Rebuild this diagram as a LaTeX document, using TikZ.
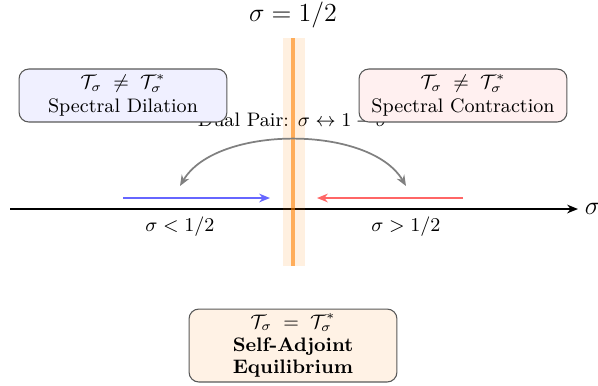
\documentclass[tikz,border=0pt]{standalone}
\usetikzlibrary{arrows.meta}
\begin{document}
\begin{tikzpicture}[x=0.4608pt,y=-0.4608pt,
  infobox/.style={draw=black!65, rounded corners=4.5pt, line width=0.5pt, align=center,
    minimum width=95.8pt, font=\small, inner sep=2pt},
  tip/.style={-{Stealth[length=5pt,width=4pt]}},
  lbl/.style={font=\small}]
\useasboundingbox (0,0) rectangle (598,385);
% axis
\coordinate (axL) at (10,209);
\coordinate (axR) at (578,209);
\draw[line width=0.8pt, tip] (axL) -- (axR);
\node[anchor=west, inner sep=3pt] (sig) at (axR) {\large$\sigma$};
% dual pair label
\node[lbl] (dual) at (293,121) {Dual Pair: $\sigma \leftrightarrow 1-\sigma$};
% critical line band
\coordinate (cT) at (293,38);
\coordinate (cB) at (293,266);
\fill[orange, opacity=0.12] (283,38) rectangle (305,266);
\draw[orange, opacity=0.6, line width=1.7pt] (cT) -- (cB);
\node[font=\large, inner sep=1pt] (title) at (293,15) {$\sigma = 1/2$};
% boxes
\node[infobox, fill=blue!6, minimum height=24.4pt] (left) at (123,95.5)
  {$\mathcal{T}_\sigma \;\neq\; \mathcal{T}^*_\sigma$\\[0pt] Spectral Dilation};
\node[infobox, fill=red!6, minimum height=24.4pt] (right) at (463,95.5)
  {$\mathcal{T}_\sigma \;\neq\; \mathcal{T}^*_\sigma$\\[0pt] Spectral Contraction};
\node[infobox, fill=orange!10, minimum height=33.6pt] (bottom) at (293,345.5)
  {$\mathcal{T}_\sigma \;=\; \mathcal{T}^*_\sigma$\\[0pt] \textbf{Self-Adjoint}\\[-1pt] \textbf{Equilibrium}};
% flow arrows
\coordinate (bS) at (123,198);
\coordinate (bE) at (270,198);
\coordinate (rS) at (463,198);
\coordinate (rE) at (317,198);
\draw[blue!60, line width=0.8pt, tip] (bS) -- (bE);
\draw[red!60, line width=0.8pt, tip] (rS) -- (rE);
% dual arc
\coordinate (aL) at (180,186);
\coordinate (aR) at (406,186);
\draw[black!50, line width=0.8pt, {Stealth[length=5pt,width=4pt]}-{Stealth[length=5pt,width=4pt]}]
  (aL) .. controls (216,124.7) and (370,124.7) .. (aR);
% region labels
\node[lbl] (lt) at (180,227) {$\sigma < 1/2$};
\node[lbl] (gt) at (406,227) {$\sigma > 1/2$};
\end{tikzpicture}
\end{document}
